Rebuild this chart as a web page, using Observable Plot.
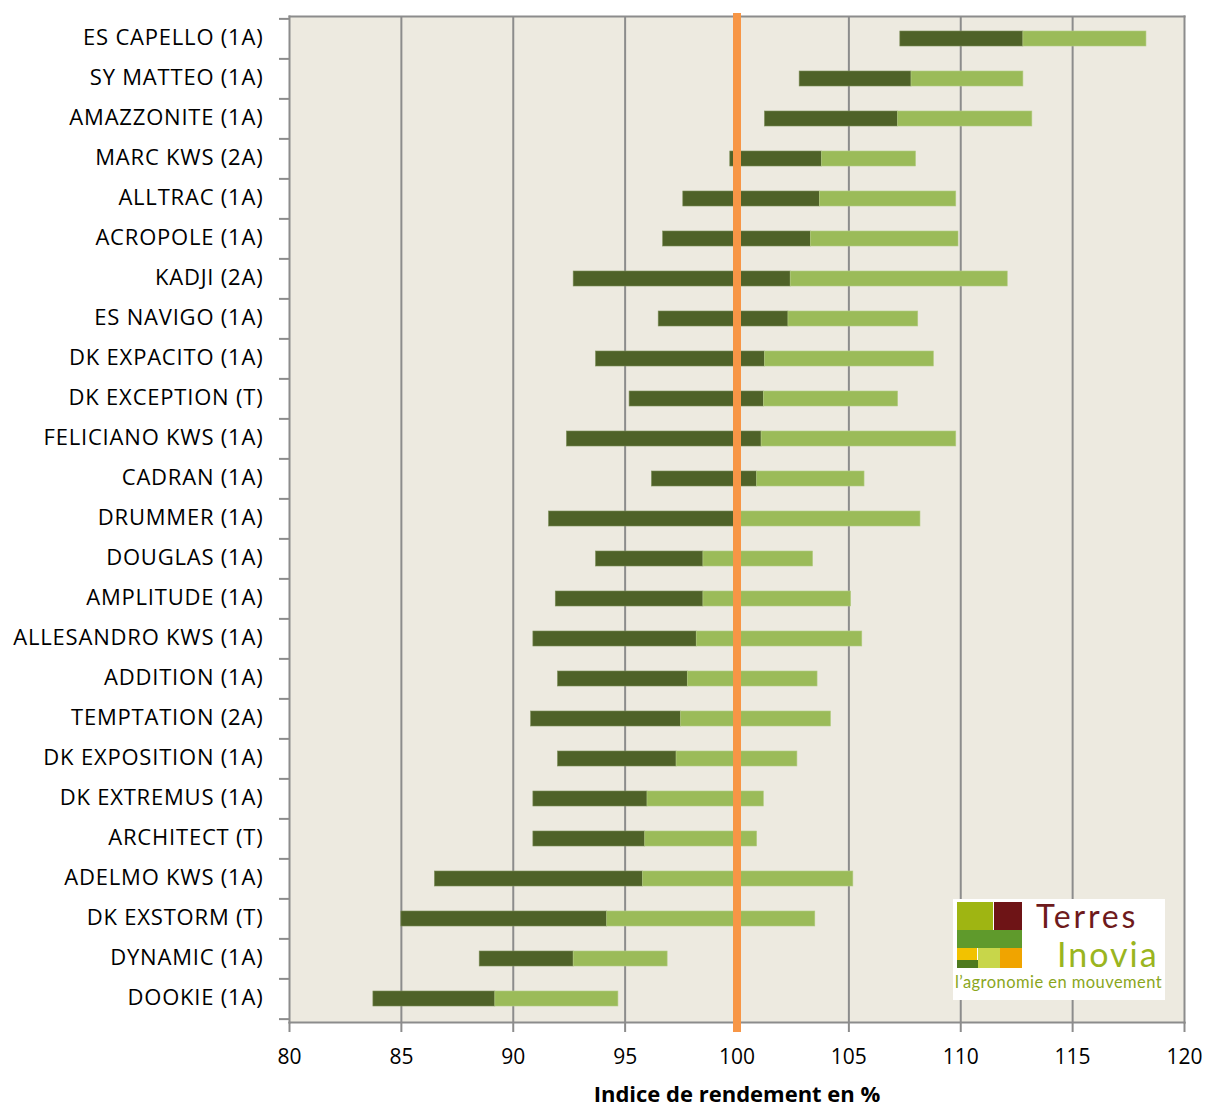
<!DOCTYPE html>
<html>
<head>
<meta charset="utf-8">
<script src="https://cdn.jsdelivr.net/npm/d3@7"></script>
<script src="https://cdn.jsdelivr.net/npm/@observablehq/plot@0.6"></script>
<style>
  html, body { margin: 0; padding: 0; background: #ffffff; }
  #wrap { position: relative; width: 1208px; height: 1108px; }
  #chart g[aria-label="y-axis tick label"] text { letter-spacing: 0.8px; }
  #logo { position: absolute; left: 953px; top: 899px; width: 212px; height: 101px; background: #ffffff; font-family: Lato, "Noto Sans", sans-serif; }
  #logo .sq { position: absolute; }
  #logo .t { position: absolute; white-space: nowrap; }
  #logo .t1 { left: 83px; top: 0px; font-size: 32px; line-height: 34px; color: #6e1a1c; letter-spacing: 2.8px; }
  #logo .t2 { left: 104px; top: 40px; font-size: 34px; line-height: 30px; color: #9ab520; letter-spacing: 2px; }
  #logo .t3 { left: 2px; top: 76px; font-size: 16.5px; line-height: 14px; color: #8aa61c; letter-spacing: 0.45px; }
</style>
</head>
<body>
<div id="wrap">
  <div id="chart"></div>
  <div id="logo">
    <div class="sq" style="left:4px;top:3px;width:36px;height:28px;background:#9fb512"></div>
    <div class="sq" style="left:41px;top:3px;width:28px;height:28px;background:#6e1416"></div>
    <div class="sq" style="left:4px;top:31px;width:65px;height:18px;background:#5f9a2c"></div>
    <div class="sq" style="left:4px;top:49px;width:20px;height:12px;background:#f2c200"></div>
    <div class="sq" style="left:4px;top:61px;width:21px;height:8px;background:#4e7a1e"></div>
    <div class="sq" style="left:25px;top:49px;width:22px;height:20px;background:#c8d64a"></div>
    <div class="sq" style="left:47px;top:49px;width:22px;height:20px;background:#f0a400"></div>
    <div class="t t1">Terres</div>
    <div class="t t2">Inovia</div>
    <div class="t t3">l’agronomie en mouvement</div>
  </div>
</div>
<script>
const varieties = [
  "ES CAPELLO (1A)", "SY MATTEO (1A)", "AMAZZONITE (1A)", "MARC KWS (2A)", "ALLTRAC (1A)",
  "ACROPOLE (1A)", "KADJI (2A)", "ES NAVIGO (1A)", "DK EXPACITO (1A)", "DK EXCEPTION (T)",
  "FELICIANO KWS (1A)", "CADRAN (1A)", "DRUMMER (1A)", "DOUGLAS (1A)", "AMPLITUDE (1A)",
  "ALLESANDRO KWS (1A)", "ADDITION (1A)", "TEMPTATION (2A)", "DK EXPOSITION (1A)", "DK EXTREMUS (1A)",
  "ARCHITECT (T)", "ADELMO KWS (1A)", "DK EXSTORM (T)", "DYNAMIC (1A)", "DOOKIE (1A)"
];
const minValues = [107.3, 102.8, 101.25, 99.7, 97.6, 96.7, 92.7, 96.5, 93.7, 95.2,
  92.4, 96.2, 91.6, 93.7, 91.9, 90.9, 92.0, 90.8, 92.0, 90.9, 90.9, 86.5, 85.0, 88.5, 83.75];
const midValues = [112.8, 107.8, 107.2, 103.8, 103.7, 103.3, 102.4, 102.3, 101.25, 101.2,
  101.1, 100.9, 100.0, 98.5, 98.5, 98.2, 97.8, 97.5, 97.3, 96.0, 95.9, 95.8, 94.2, 92.7, 89.2];
const maxValues = [118.3, 112.8, 113.2, 108.0, 109.8, 109.9, 112.1, 108.1, 108.8, 107.2,
  109.8, 105.7, 108.2, 103.4, 105.1, 105.6, 103.6, 104.2, 102.7, 101.2, 100.9, 105.2, 103.5, 96.9, 94.7];
const xTicks = [80, 85, 90, 95, 100, 105, 110, 115, 120];
const gridTicks = [85, 90, 95, 100, 105, 110, 115];
const reference = [100];

const rows = varieties.map((name, i) => ({name, min: minValues[i], mid: midValues[i], max: maxValues[i]}));

const W = 1208, H = 1108;
const mL = 289, mR = 24, mT = 16, mB = 86;
const step = (H - mT - mB) / varieties.length;
const fontFam = "'Open Sans', 'Noto Sans', sans-serif";
const grey = "#8c8c8c";

const chart = Plot.plot({
  width: W,
  height: H,
  marginLeft: mL,
  marginRight: mR,
  marginTop: mT,
  marginBottom: mB,
  style: {fontFamily: fontFam, background: "transparent", overflow: "visible"},
  x: {domain: [80, 120]},
  y: {domain: varieties, paddingInner: 0.62, paddingOuter: 0.31},
  marks: [
    Plot.frame({fill: "#edeae0", stroke: null}),
    Plot.ruleX(gridTicks, {stroke: grey, strokeWidth: 2}),
    Plot.frame({anchor: "top", stroke: grey, strokeWidth: 2}),
    Plot.frame({anchor: "right", stroke: grey, strokeWidth: 2}),
    Plot.barX(rows, {y: "name", x1: "min", x2: "mid", fill: "#4f6228", stroke: "#7a8c55", strokeWidth: 0.6}),
    Plot.barX(rows, {y: "name", x1: "mid", x2: "max", fill: "#9bbb59", stroke: "#b3cc82", strokeWidth: 0.6}),
    Plot.ruleY(varieties, {y: d => d, dy: -step / 2, insetLeft: -10, insetRight: W - mL - mR, stroke: grey, strokeWidth: 2}),
    Plot.ruleY([varieties[varieties.length - 1]], {y: d => d, dy: step / 2, insetLeft: -10, insetRight: W - mL - mR, stroke: grey, strokeWidth: 2}),
    Plot.frame({anchor: "left", stroke: grey, strokeWidth: 2}),
    Plot.frame({anchor: "bottom", stroke: grey, strokeWidth: 2}),
    Plot.axisY({tickSize: 0, tickPadding: 26, fontSize: 22, dy: -1, fill: "#000", label: null}),
    Plot.axisX({ticks: xTicks, tickSize: 10, tickPadding: 17, fontSize: 21, stroke: grey, strokeWidth: 2, fill: "#000", label: null, tickFormat: d => String(d)}),
    Plot.text(["Indice de rendement en %"], {frameAnchor: "bottom", dy: 79, fontSize: 22, fontWeight: "bold", fill: "#000"}),
    Plot.ruleX(reference, {stroke: "#f79646", strokeWidth: 8, insetTop: -3, insetBottom: -10})
  ]
});
document.getElementById("chart").appendChild(chart);
</script>
</body>
</html>
